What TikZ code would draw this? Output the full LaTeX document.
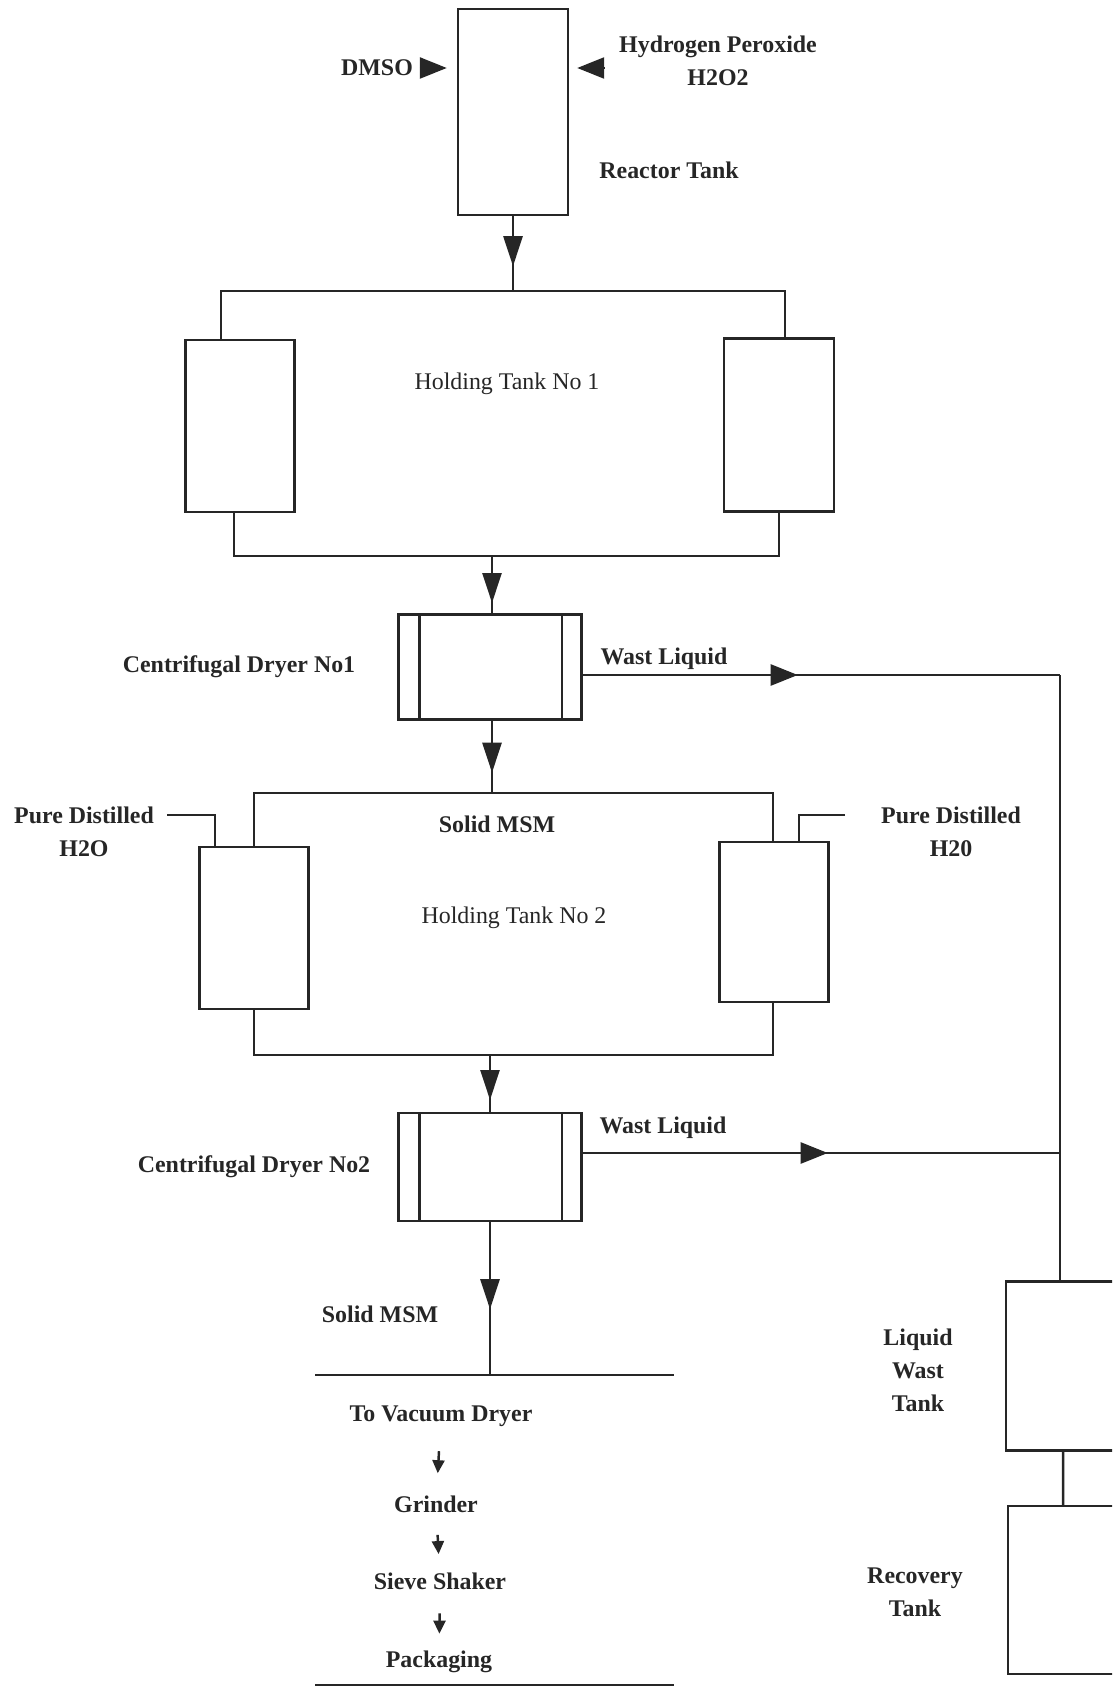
\documentclass[tikz,border=0pt]{standalone}
\usepackage{fontspec}
\setmainfont{Liberation Serif}
\usetikzlibrary{arrows.meta,calc,positioning}

\tikzset{
  tank/.style={draw, rectangle, inner sep=0pt},
  lbl/.style={font=\fontsize{6.8}{9.4}\selectfont\bfseries, align=center, inner sep=0pt},
  plainlbl/.style={font=\fontsize{6.8}{9.4}\selectfont, inner sep=0pt},
  flow/.style={-{Triangle[length=3mm,width=1.9mm]}},
  feed/.style={-{Triangle[length=2.7mm,width=2.1mm]}},
  smallflow/.style={-{Triangle[length=1.3mm,width=1.2mm]}},
}

\begin{document}
\begin{tikzpicture}[x=0.1mm, y=-0.1mm, line width=0.7pt, color=black!85]
\clip (0,0) rectangle (1112,1688);

% Reactor tank and feeds
\node[tank, minimum width=11mm, minimum height=20.6mm] (reactor) at (513,112) {};
\node[lbl] (dmso) at (377,68) {DMSO};
\node[lbl] (h2o2) at (718,61) {Hydrogen Peroxide\\H2O2};
\node[lbl] (reactorlbl) at (669,170) {Reactor Tank};
\draw[feed, shorten >=1mm] ([xshift=-3.7mm]reactor.west |- dmso) -- (reactor.west |- dmso);
\draw[feed, shorten >=0.8mm] ([xshift=3.5mm]reactor.east |- dmso) -- (reactor.east |- dmso);

% Reactor to holding tanks 1
\coordinate (j1) at (513,291);
\coordinate (s1l) at (221,291);
\coordinate (s1r) at (785,291);
\draw (reactor.south) -- (j1);
\draw[flow] (reactor.south) -- ++(0,50);
\node[tank, minimum width=10.9mm, minimum height=17.2mm] (hold1l) at (240,426) {};
\node[tank, minimum width=11mm, minimum height=17.3mm] (hold1r) at (779,425) {};
\node[plainlbl] (hold1lbl) at (507,384) {Holding Tank No 1};
\draw (s1l |- hold1l.north) -- (s1l) -- (s1r) -- (s1r |- hold1r.north);

% Holding tanks 1 to dryer 1
\coordinate (b1l) at (234,556);
\coordinate (b1r) at (779,556);
\coordinate (m1) at (492,556);
\draw (b1l |- hold1l.south) -- (b1l) -- (b1r) -- (hold1r.south);
\node[tank, minimum width=18.3mm, minimum height=10.5mm] (dryer1) at (490,667) {};
\draw (m1) -- (m1 |- dryer1.north);
\draw[flow] (m1) -- ++(0,47);
\node[lbl] (dryer1lbl) at (239,667) {Centrifugal Dryer No1};

% Waste liquid 1
\coordinate (w1) at (1060,675);
\draw (dryer1.east |- w1) -- (w1);
\draw[feed] (dryer1.east |- w1) -- ++(215,0);
\node[lbl] (wast1) at (664,659) {Wast Liquid};

% Dryer 1 to holding tanks 2
\coordinate (m2) at (492,793);
\coordinate (s2l) at (254,793);
\coordinate (s2r) at (773,793);
\draw (dryer1.south -| m2) -- (m2);
\draw[flow] (dryer1.south -| m2) -- ++(0,52);
\node[tank, minimum width=10.9mm, minimum height=16.2mm] (hold2l) at (254,928) {};
\node[tank, minimum width=10.9mm, minimum height=16mm] (hold2r) at (774,922) {};
\draw (s2l |- hold2l.north) -- (s2l) -- (s2r) -- (s2r |- hold2r.north);
\node[lbl] (solid1) at (497,824) {Solid MSM};
\node[plainlbl] (hold2lbl) at (514,918) {Holding Tank No 2};

% Pure distilled water
\coordinate (pl) at (215,815);
\coordinate (pr) at (799,815);
\node[lbl] (pdl) at (84,832) {Pure Distilled\\H2O};
\node[lbl] (pdr) at (951,832) {Pure Distilled\\H20};
\draw ([xshift=-4.8mm]pl) -- (pl) -- (pl |- hold2l.north);
\draw ([xshift=4.6mm]pr) -- (pr) -- (pr |- hold2r.north);

% Holding tanks 2 to dryer 2
\coordinate (b2l) at (254,1055);
\coordinate (b2r) at (773,1055);
\coordinate (m3) at (490,1055);
\draw (hold2l.south -| b2l) -- (b2l) -- (b2r) -- (hold2r.south -| b2r);
\node[tank, minimum width=18.3mm, minimum height=10.8mm] (dryer2) at (490,1167) {};
\draw (m3) -- (m3 |- dryer2.north);
\draw[flow] (m3) -- ++(0,45);
\node[lbl] (dryer2lbl) at (254,1167) {Centrifugal Dryer No2};

% inner walls of the dryers
\foreach \d in {dryer1,dryer2} {
  \draw ([xshift=2.2mm]\d.north west) -- ([xshift=2.2mm]\d.south west);
  \draw ([xshift=-2.1mm]\d.north east) -- ([xshift=-2.1mm]\d.south east);
}

% Waste liquid 2
\coordinate (w2) at (1060,1153);
\draw (dryer2.east |- w2) -- (w2);
\draw[feed] (dryer2.east |- w2) -- ++(245,0);
\node[lbl] (wast2) at (663,1128) {Wast Liquid};

% Waste and recovery tanks
\node[tank, minimum width=20mm, minimum height=16.9mm] (wastetank) at (1106,1366) {};
\node[tank, minimum width=20mm, minimum height=16.8mm] (recovery) at (1108,1590) {};
\draw (w1) -- (w1 |- wastetank.north);
\draw ([xshift=-4.3mm]wastetank.south) -- ([xshift=-4.5mm]recovery.north);
\node[lbl] (wastelbl) at (918,1370) {Liquid\\Wast\\Tank};
\node[lbl] (recolbl) at (915,1592) {Recovery\\Tank};

% Dryer 2 to finishing
\coordinate (m4) at (490,1375);
\coordinate (h1l) at (315,1375);
\coordinate (h1r) at (674,1375);
\draw (dryer2.south -| m4) -- (m4);
\draw[flow] (dryer2.south -| m4) -- ++(0,87);
\draw (h1l) -- (h1r);
\node[lbl] (solid2) at (380,1314) {Solid MSM};

\node[lbl] (vac) at (441,1416) {To Vacuum Dryer};
\node[lbl] (grind) at (436,1504) {Grinder};
\node[lbl] (sieve) at (440,1581) {Sieve Shaker};
\node[lbl] (pack) at (439,1662) {Packaging};
\foreach \a/\b in {vac/grind, grind/sieve, sieve/pack}
  \draw[smallflow] ($(\a)!0.4!(\b)$) -- ($(\a)!0.65!(\b)$);

\coordinate (h2l) at (315,1685);
\coordinate (h2r) at (674,1685);
\draw (h2l) -- (h2r);
\end{tikzpicture}
\end{document}
